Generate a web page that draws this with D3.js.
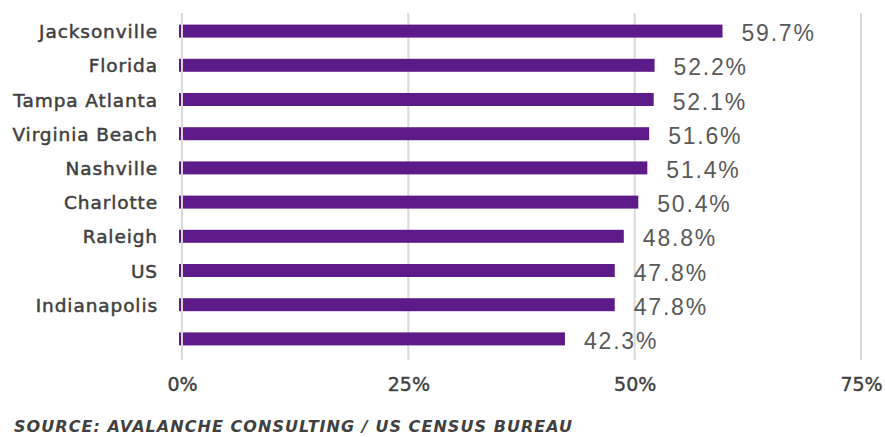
<!DOCTYPE html>
<html>
<head>
<meta charset="utf-8">
<script src="https://cdn.jsdelivr.net/npm/d3@7"></script>
<style>
  body { margin: 0; background: #fff; }
  svg { display: block; }
</style>
</head>
<body>
<script>
// chart data
const cities = ["Jacksonville", "Florida", "Tampa Atlanta", "Virginia Beach", "Nashville",
  "Charlotte", "Raleigh", "US", "Indianapolis", ""];
const shares = [59.7, 52.2, 52.1, 51.6, 51.4, 50.4, 48.8, 47.8, 47.8, 42.3];
const xTicks = [0, 25, 50, 75];
const source = "SOURCE: AVALANCHE CONSULTING / US CENSUS BUREAU";

const width = 885, height = 437;
const rows = cities.map((c, i) => ({ key: i, name: c, value: shares[i] }));

const x = d3.scaleLinear().domain([0, 75]).range([182, 861]);
const y = d3.scaleBand().domain(rows.map(d => d.key)).range([14, 356]).paddingInner(0.62).paddingOuter(0.31);

const svg = d3.select("body").append("svg")
  .attr("width", width).attr("height", height);

// gridlines
svg.append("g")
  .selectAll("line")
  .data(xTicks.filter(t => t > 0))
  .join("line")
  .attr("x1", d => x(d)).attr("x2", d => x(d))
  .attr("y1", 13).attr("y2", 360)
  .attr("stroke", "#d9d9d9").attr("stroke-width", 2);

// bars
svg.append("g")
  .selectAll("rect")
  .data(rows)
  .join("rect")
  .attr("x", x(0) - 3)
  .attr("y", d => y(d.key))
  .attr("width", d => x(d.value) - x(0) + 3)
  .attr("height", y.bandwidth())
  .attr("fill", "#5d1b89");

// zero axis line sits on top of bars
svg.append("line")
  .attr("x1", x(0)).attr("x2", x(0))
  .attr("y1", 13).attr("y2", 360)
  .attr("stroke", "#d9d9d9").attr("stroke-width", 2);

// value labels
svg.append("g")
  .selectAll("text")
  .data(rows)
  .join("text")
  .attr("x", d => x(d.value) + 19)
  .attr("y", d => y(d.key) + y.bandwidth() / 2 + 10)
  .attr("font-family", "Liberation Sans, Arial, sans-serif")
  .attr("font-size", 23)
  .attr("letter-spacing", 1.8)
  .attr("fill", "#595959")
  .text(d => d.value.toFixed(1) + "%");

// category labels
svg.append("g")
  .selectAll("text")
  .data(rows)
  .join("text")
  .attr("x", 158)
  .attr("y", d => y(d.key) + y.bandwidth() / 2 + 7)
  .attr("text-anchor", "end")
  .attr("font-family", "DejaVu Sans, sans-serif")
  .attr("font-size", 18.5)
  .attr("letter-spacing", 0.9)
  .attr("fill", "#404040")
  .attr("stroke", "#404040")
  .attr("stroke-width", 0.5)
  .text(d => d.name);

// x axis labels
const xAxis = d3.axisBottom(x).tickValues(xTicks).tickFormat(d => d + "%").tickSize(0).tickPadding(0);
const gx = svg.append("g").attr("transform", "translate(0,377)").call(xAxis);
gx.select(".domain").remove();
gx.selectAll("text")
  .attr("font-family", "DejaVu Sans, sans-serif")
  .attr("font-size", 19)
  .attr("fill", "#404040")
  .attr("stroke", "#404040")
  .attr("stroke-width", 0.4);

// source note
svg.append("text")
  .attr("x", 14)
  .attr("y", 432)
  .attr("font-family", "DejaVu Sans, sans-serif")
  .attr("font-style", "italic")
  .attr("font-weight", "bold")
  .attr("font-size", 16)
  .attr("letter-spacing", 1.05)
  .attr("fill", "#404040")
  .text(source);
</script>
</body>
</html>
